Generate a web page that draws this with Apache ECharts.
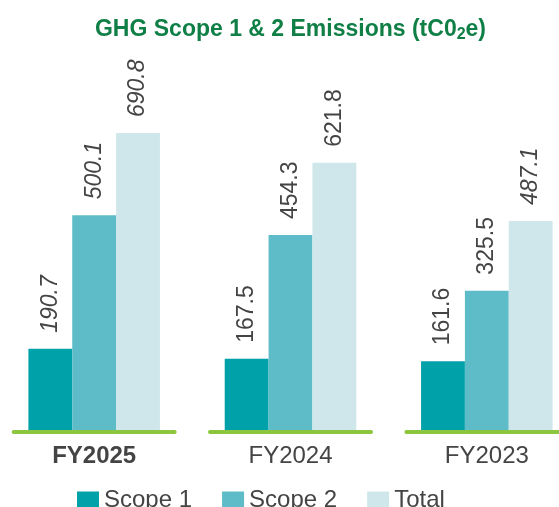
<!DOCTYPE html>
<html>
<head>
<meta charset="utf-8">
<script src="https://cdn.jsdelivr.net/npm/echarts@6/dist/echarts.min.js"></script>
<style>html,body{margin:0;padding:0;background:#fff;overflow:hidden;width:559px;height:507px}#c{width:589px;height:507px;margin-left:-4px}</style>
</head>
<body>
<div id="c"></div>
<script>
const categories = ['FY2025', 'FY2024', 'FY2023'];
const scope1 = [190.7, 167.5, 161.6];
const scope2 = [500.1, 454.3, 325.5];
const total = [690.8, 621.8, 487.1];
const seriesNames = ['Scope 1', 'Scope 2', 'Total'];
const labelItalic = [
  [true, false, false],
  [true, false, false],
  [true, false, true]
];
const colors = ['#00a1a9', '#5dbcc8', '#cfe7eb'];

const chart = echarts.init(document.getElementById('c'));
const FONT = '"Liberation Sans", Arial, Helvetica, sans-serif';

function barSeries(name, values, idx) {
  return {
    name: name,
    type: 'bar',
    barGap: '0%',
    barCategoryGap: '33%',
    itemStyle: { color: colors[idx] },
    data: values.map((v, i) => ({
      value: v,
      label: { fontStyle: labelItalic[idx][i] ? 'italic' : 'normal' }
    })),
    label: {
      show: true,
      position: 'top',
      rotate: 90,
      align: 'left',
      verticalAlign: 'middle',
      distance: 16,
      color: '#444',
      fontFamily: FONT,
      fontSize: 23,
      formatter: p => p.value.toFixed(1)
    },
    z: 2
  };
}

chart.setOption({
  animation: false,
  title: {
    text: '{a|GHG Scope 1 & 2 Emissions (tC0}{s|2}{a|e)}',
    left: 'center',
    top: 11,
    textStyle: {
      rich: {
        a: { fontFamily: FONT, fontSize: 23, fontWeight: 'bold', color: '#0f7f46' },
        s: { fontFamily: FONT, fontSize: 16, fontWeight: 'bold', color: '#0f7f46', padding: [11, 0, 0, 0] }
      }
    }
  },
  legend: {
    data: seriesNames,
    left: 76,
    top: 483,
    itemWidth: 22,
    itemHeight: 17,
    itemGap: 30,
    icon: 'rect',
    textStyle: { fontFamily: FONT, fontSize: 24, color: '#444' }
  },
  grid: { left: 0, right: 0, top: 86, bottom: 76, containLabel: false },
  xAxis: {
    type: 'category',
    data: categories,
    axisLine: { show: false },
    axisTick: { show: false },
    axisLabel: {
      margin: 13,
      fontFamily: FONT,
      fontSize: 24,
      color: '#444',
      formatter: (v, i) => i === 0 ? '{b|' + v + '}' : v,
      rich: { b: { fontFamily: FONT, fontSize: 24, fontWeight: 'bold', color: '#444' } }
    }
  },
  yAxis: {
    type: 'value',
    min: 0,
    max: 800,
    show: false,
    splitLine: { show: false }
  },
  series: [
    barSeries(seriesNames[0], scope1, 0),
    barSeries(seriesNames[1], scope2, 1),
    barSeries(seriesNames[2], total, 2),
    {
      type: 'custom',
      data: categories.map((c, i) => [i, 0]),
      renderItem: function (params, api) {
        const p = api.coord([api.value(0), 0]);
        const w = api.size([1, 0])[0];
        const half = w * 0.41;
        return {
          type: 'line',
          shape: { x1: p[0] - half, y1: p[1] + 1, x2: p[0] + half, y2: p[1] + 1 },
          style: { stroke: '#8cc63f', lineWidth: 4, lineCap: 'round' },
          z2: 10
        };
      },
      silent: true,
      z: 3
    }
  ]
});
</script>
</body>
</html>
